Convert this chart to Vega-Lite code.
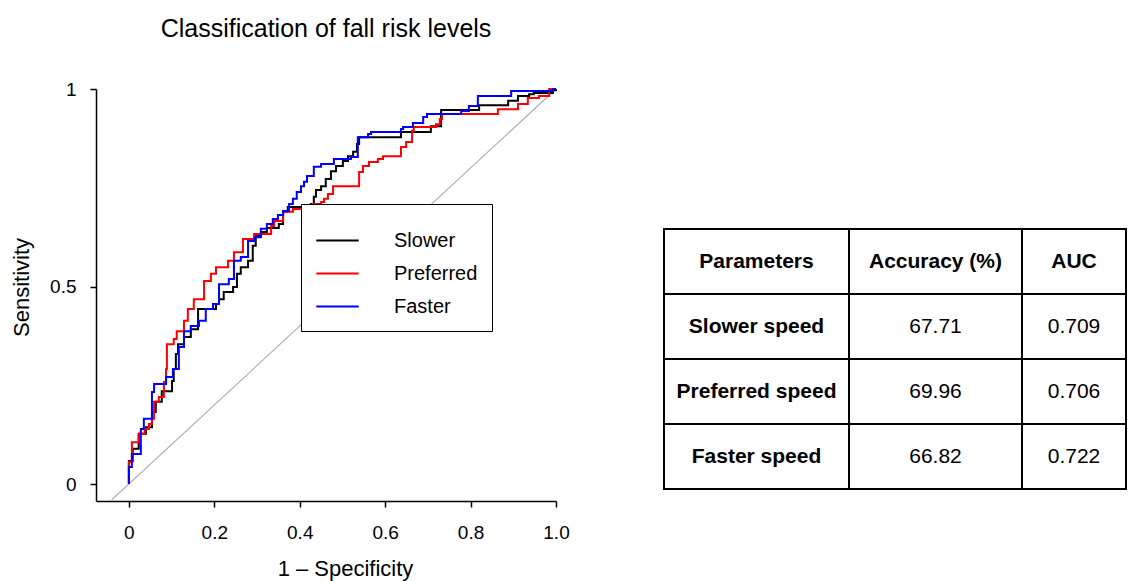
{
  "$schema": "https://vega.github.io/schema/vega-lite/v6.json",
  "padding": {"left": 10, "top": 17, "right": 2, "bottom": 5},
  "background": "white",
  "datasets": {
    "diag": [{"x": -0.04, "y": -0.04}, {"x": 1, "y": 1}],
    "roc": [
      {"s": "Slower", "fpr": 0, "tpr": 0},
      {"s": "Slower", "fpr": 0, "tpr": 0.058},
      {"s": "Slower", "fpr": 0.009, "tpr": 0.089},
      {"s": "Slower", "fpr": 0.023, "tpr": 0.127},
      {"s": "Slower", "fpr": 0.040, "tpr": 0.144},
      {"s": "Slower", "fpr": 0.054, "tpr": 0.182},
      {"s": "Slower", "fpr": 0.063, "tpr": 0.208},
      {"s": "Slower", "fpr": 0.077, "tpr": 0.235},
      {"s": "Slower", "fpr": 0.101, "tpr": 0.261},
      {"s": "Slower", "fpr": 0.105, "tpr": 0.291},
      {"s": "Slower", "fpr": 0.110, "tpr": 0.329},
      {"s": "Slower", "fpr": 0.115, "tpr": 0.354},
      {"s": "Slower", "fpr": 0.129, "tpr": 0.372},
      {"s": "Slower", "fpr": 0.145, "tpr": 0.392},
      {"s": "Slower", "fpr": 0.162, "tpr": 0.443},
      {"s": "Slower", "fpr": 0.204, "tpr": 0.456},
      {"s": "Slower", "fpr": 0.211, "tpr": 0.468},
      {"s": "Slower", "fpr": 0.222, "tpr": 0.486},
      {"s": "Slower", "fpr": 0.244, "tpr": 0.499},
      {"s": "Slower", "fpr": 0.253, "tpr": 0.532},
      {"s": "Slower", "fpr": 0.262, "tpr": 0.549},
      {"s": "Slower", "fpr": 0.279, "tpr": 0.565},
      {"s": "Slower", "fpr": 0.290, "tpr": 0.603},
      {"s": "Slower", "fpr": 0.297, "tpr": 0.628},
      {"s": "Slower", "fpr": 0.309, "tpr": 0.638},
      {"s": "Slower", "fpr": 0.323, "tpr": 0.648},
      {"s": "Slower", "fpr": 0.351, "tpr": 0.658},
      {"s": "Slower", "fpr": 0.361, "tpr": 0.689},
      {"s": "Slower", "fpr": 0.372, "tpr": 0.701},
      {"s": "Slower", "fpr": 0.426, "tpr": 0.709},
      {"s": "Slower", "fpr": 0.433, "tpr": 0.727},
      {"s": "Slower", "fpr": 0.438, "tpr": 0.744},
      {"s": "Slower", "fpr": 0.450, "tpr": 0.754},
      {"s": "Slower", "fpr": 0.461, "tpr": 0.772},
      {"s": "Slower", "fpr": 0.473, "tpr": 0.792},
      {"s": "Slower", "fpr": 0.485, "tpr": 0.805},
      {"s": "Slower", "fpr": 0.501, "tpr": 0.818},
      {"s": "Slower", "fpr": 0.513, "tpr": 0.830},
      {"s": "Slower", "fpr": 0.525, "tpr": 0.841},
      {"s": "Slower", "fpr": 0.534, "tpr": 0.861},
      {"s": "Slower", "fpr": 0.539, "tpr": 0.878},
      {"s": "Slower", "fpr": 0.637, "tpr": 0.891},
      {"s": "Slower", "fpr": 0.707, "tpr": 0.906},
      {"s": "Slower", "fpr": 0.731, "tpr": 0.947},
      {"s": "Slower", "fpr": 0.820, "tpr": 0.959},
      {"s": "Slower", "fpr": 0.888, "tpr": 0.970},
      {"s": "Slower", "fpr": 0.911, "tpr": 0.982},
      {"s": "Slower", "fpr": 0.937, "tpr": 0.987},
      {"s": "Slower", "fpr": 0.948, "tpr": 0.990},
      {"s": "Slower", "fpr": 0.993, "tpr": 0.997},
      {"s": "Slower", "fpr": 1.0, "tpr": 1.0},
      {"s": "Preferred", "fpr": 0, "tpr": 0},
      {"s": "Preferred", "fpr": 0, "tpr": 0.056},
      {"s": "Preferred", "fpr": 0.007, "tpr": 0.106},
      {"s": "Preferred", "fpr": 0.023, "tpr": 0.127},
      {"s": "Preferred", "fpr": 0.037, "tpr": 0.139},
      {"s": "Preferred", "fpr": 0.047, "tpr": 0.152},
      {"s": "Preferred", "fpr": 0.054, "tpr": 0.165},
      {"s": "Preferred", "fpr": 0.059, "tpr": 0.208},
      {"s": "Preferred", "fpr": 0.070, "tpr": 0.220},
      {"s": "Preferred", "fpr": 0.082, "tpr": 0.258},
      {"s": "Preferred", "fpr": 0.087, "tpr": 0.291},
      {"s": "Preferred", "fpr": 0.089, "tpr": 0.354},
      {"s": "Preferred", "fpr": 0.105, "tpr": 0.367},
      {"s": "Preferred", "fpr": 0.112, "tpr": 0.387},
      {"s": "Preferred", "fpr": 0.129, "tpr": 0.413},
      {"s": "Preferred", "fpr": 0.138, "tpr": 0.443},
      {"s": "Preferred", "fpr": 0.152, "tpr": 0.468},
      {"s": "Preferred", "fpr": 0.176, "tpr": 0.514},
      {"s": "Preferred", "fpr": 0.192, "tpr": 0.532},
      {"s": "Preferred", "fpr": 0.204, "tpr": 0.549},
      {"s": "Preferred", "fpr": 0.232, "tpr": 0.565},
      {"s": "Preferred", "fpr": 0.246, "tpr": 0.587},
      {"s": "Preferred", "fpr": 0.267, "tpr": 0.620},
      {"s": "Preferred", "fpr": 0.293, "tpr": 0.633},
      {"s": "Preferred", "fpr": 0.333, "tpr": 0.653},
      {"s": "Preferred", "fpr": 0.340, "tpr": 0.666},
      {"s": "Preferred", "fpr": 0.361, "tpr": 0.689},
      {"s": "Preferred", "fpr": 0.384, "tpr": 0.696},
      {"s": "Preferred", "fpr": 0.431, "tpr": 0.709},
      {"s": "Preferred", "fpr": 0.450, "tpr": 0.714},
      {"s": "Preferred", "fpr": 0.457, "tpr": 0.722},
      {"s": "Preferred", "fpr": 0.466, "tpr": 0.734},
      {"s": "Preferred", "fpr": 0.478, "tpr": 0.754},
      {"s": "Preferred", "fpr": 0.539, "tpr": 0.790},
      {"s": "Preferred", "fpr": 0.548, "tpr": 0.805},
      {"s": "Preferred", "fpr": 0.562, "tpr": 0.815},
      {"s": "Preferred", "fpr": 0.583, "tpr": 0.823},
      {"s": "Preferred", "fpr": 0.595, "tpr": 0.830},
      {"s": "Preferred", "fpr": 0.637, "tpr": 0.853},
      {"s": "Preferred", "fpr": 0.649, "tpr": 0.866},
      {"s": "Preferred", "fpr": 0.663, "tpr": 0.894},
      {"s": "Preferred", "fpr": 0.667, "tpr": 0.904},
      {"s": "Preferred", "fpr": 0.719, "tpr": 0.911},
      {"s": "Preferred", "fpr": 0.728, "tpr": 0.924},
      {"s": "Preferred", "fpr": 0.733, "tpr": 0.937},
      {"s": "Preferred", "fpr": 0.864, "tpr": 0.949},
      {"s": "Preferred", "fpr": 0.911, "tpr": 0.962},
      {"s": "Preferred", "fpr": 0.934, "tpr": 0.977},
      {"s": "Preferred", "fpr": 0.960, "tpr": 0.982},
      {"s": "Preferred", "fpr": 0.984, "tpr": 1.0},
      {"s": "Preferred", "fpr": 1.0, "tpr": 1.0},
      {"s": "Faster", "fpr": 0, "tpr": 0},
      {"s": "Faster", "fpr": 0, "tpr": 0.043},
      {"s": "Faster", "fpr": 0.007, "tpr": 0.076},
      {"s": "Faster", "fpr": 0.028, "tpr": 0.139},
      {"s": "Faster", "fpr": 0.035, "tpr": 0.165},
      {"s": "Faster", "fpr": 0.054, "tpr": 0.233},
      {"s": "Faster", "fpr": 0.059, "tpr": 0.253},
      {"s": "Faster", "fpr": 0.087, "tpr": 0.271},
      {"s": "Faster", "fpr": 0.103, "tpr": 0.291},
      {"s": "Faster", "fpr": 0.117, "tpr": 0.347},
      {"s": "Faster", "fpr": 0.129, "tpr": 0.387},
      {"s": "Faster", "fpr": 0.145, "tpr": 0.400},
      {"s": "Faster", "fpr": 0.164, "tpr": 0.413},
      {"s": "Faster", "fpr": 0.180, "tpr": 0.443},
      {"s": "Faster", "fpr": 0.197, "tpr": 0.456},
      {"s": "Faster", "fpr": 0.211, "tpr": 0.506},
      {"s": "Faster", "fpr": 0.234, "tpr": 0.519},
      {"s": "Faster", "fpr": 0.246, "tpr": 0.565},
      {"s": "Faster", "fpr": 0.262, "tpr": 0.575},
      {"s": "Faster", "fpr": 0.279, "tpr": 0.615},
      {"s": "Faster", "fpr": 0.295, "tpr": 0.625},
      {"s": "Faster", "fpr": 0.309, "tpr": 0.646},
      {"s": "Faster", "fpr": 0.323, "tpr": 0.658},
      {"s": "Faster", "fpr": 0.337, "tpr": 0.671},
      {"s": "Faster", "fpr": 0.349, "tpr": 0.681},
      {"s": "Faster", "fpr": 0.361, "tpr": 0.691},
      {"s": "Faster", "fpr": 0.375, "tpr": 0.709},
      {"s": "Faster", "fpr": 0.384, "tpr": 0.722},
      {"s": "Faster", "fpr": 0.393, "tpr": 0.739},
      {"s": "Faster", "fpr": 0.403, "tpr": 0.754},
      {"s": "Faster", "fpr": 0.410, "tpr": 0.765},
      {"s": "Faster", "fpr": 0.417, "tpr": 0.780},
      {"s": "Faster", "fpr": 0.433, "tpr": 0.803},
      {"s": "Faster", "fpr": 0.450, "tpr": 0.810},
      {"s": "Faster", "fpr": 0.480, "tpr": 0.823},
      {"s": "Faster", "fpr": 0.520, "tpr": 0.828},
      {"s": "Faster", "fpr": 0.536, "tpr": 0.878},
      {"s": "Faster", "fpr": 0.560, "tpr": 0.886},
      {"s": "Faster", "fpr": 0.567, "tpr": 0.891},
      {"s": "Faster", "fpr": 0.637, "tpr": 0.899},
      {"s": "Faster", "fpr": 0.642, "tpr": 0.904},
      {"s": "Faster", "fpr": 0.665, "tpr": 0.914},
      {"s": "Faster", "fpr": 0.689, "tpr": 0.929},
      {"s": "Faster", "fpr": 0.698, "tpr": 0.937},
      {"s": "Faster", "fpr": 0.778, "tpr": 0.944},
      {"s": "Faster", "fpr": 0.796, "tpr": 0.957},
      {"s": "Faster", "fpr": 0.817, "tpr": 0.982},
      {"s": "Faster", "fpr": 0.895, "tpr": 0.995},
      {"s": "Faster", "fpr": 0.993, "tpr": 1.0},
      {"s": "Faster", "fpr": 1.0, "tpr": 1.0}
    ],
    "table": [
      {"row": "Parameters", "col": "Parameters", "text": "Parameters"},
      {"row": "Parameters", "col": "Accuracy", "text": "Accuracy (%)"},
      {"row": "Parameters", "col": "AUC", "text": "AUC"},
      {"row": "Slower speed", "col": "Parameters", "text": "Slower speed"},
      {"row": "Slower speed", "col": "Accuracy", "text": "67.71"},
      {"row": "Slower speed", "col": "AUC", "text": "0.709"},
      {"row": "Preferred speed", "col": "Parameters", "text": "Preferred speed"},
      {"row": "Preferred speed", "col": "Accuracy", "text": "69.96"},
      {"row": "Preferred speed", "col": "AUC", "text": "0.706"},
      {"row": "Faster speed", "col": "Parameters", "text": "Faster speed"},
      {"row": "Faster speed", "col": "Accuracy", "text": "66.82"},
      {"row": "Faster speed", "col": "AUC", "text": "0.722"}
    ]
  },
  "spacing": 108,
  "bounds": "flush",
  "hconcat": [
    {
      "width": 460,
      "height": 412,
      "title": {"text": "Classification of fall risk levels", "fontSize": 25, "font": "Liberation Sans", "fontWeight": "normal", "color": "black", "anchor": "middle", "frame": "group", "offset": 38},
      "layer": [
        {
          "data": {"name": "diag"},
          "mark": {"type": "line", "color": "#b0b0b0", "strokeWidth": 1.2},
          "encoding": {
            "x": {"field": "x", "type": "quantitative", "scale": {"domain": [-0.077, 1.0], "nice": false, "zero": false},
              "axis": {"title": "1 – Specificity", "titleX": 249, "values": [0, 0.2, 0.4, 0.6, 0.8, 1], "labelExpr": "datum.value == 0 ? '0' : format(datum.value, '.1f')", "grid": false, "domainColor": "black", "domainWidth": 1.5, "tickColor": "black", "tickWidth": 1.5, "tickSize": 6, "labelFontSize": 19, "labelColor": "black", "labelPadding": 16, "labelFlush": false, "labelOverlap": false, "titleFontSize": 22, "titleFontWeight": "normal", "titleColor": "black", "titlePadding": 16}},
            "y": {"field": "y", "type": "quantitative", "scale": {"domain": [-0.043, 1.0], "nice": false, "zero": false},
              "axis": {"title": "Sensitivity", "titleY": 198, "values": [0, 0.5, 1], "labelExpr": "datum.value == 0.5 ? '0.5' : (datum.value == 1 ? '1' : '0')", "grid": false, "domainColor": "black", "domainWidth": 1.5, "tickColor": "black", "tickWidth": 1.5, "tickSize": 6, "labelFontSize": 19, "labelColor": "black", "labelPadding": 14, "labelFlush": false, "titleFontSize": 22, "titleFontWeight": "normal", "titleColor": "black", "titlePadding": 16}}
          }
        },
        {
          "data": {"name": "roc"},
          "mark": {"type": "line", "interpolate": "step-after", "strokeWidth": 2},
          "encoding": {
            "x": {"field": "fpr", "type": "quantitative"},
            "y": {"field": "tpr", "type": "quantitative"},
            "color": {"field": "s", "type": "nominal",
              "scale": {"domain": ["Slower", "Preferred", "Faster"], "range": ["#000000", "#ff0000", "#0000ff"]},
              "legend": {"title": null, "orient": "none", "legendX": 205, "legendY": 115, "fillColor": "white", "strokeColor": "black", "padding": 14, "symbolType": "stroke", "symbolSize": 1800, "symbolStrokeWidth": 2, "labelFontSize": 20, "labelFont": "Liberation Sans", "labelColor": "black", "rowPadding": -13, "labelOffset": 34}}
          }
        }
      ]
    },
    {
      "spacing": 0,
      "bounds": "flush",
      "hconcat": [
        {
          "width": 185, "height": 412,
          "data": {"name": "table"},
          "transform": [{"filter": "datum.col == 'Parameters'"}],
          "encoding": {"y": {"field": "row", "type": "nominal", "scale": {"domain": ["Parameters", "Slower speed", "Preferred speed", "Faster speed"], "range": [140, 400], "paddingInner": 0, "paddingOuter": 0}, "axis": null}},
          "layer": [
            {"mark": {"type": "rect", "fill": "white", "stroke": "black", "strokeWidth": 2}},
            {"mark": {"type": "text", "fontSize": 21, "fontWeight": "bold", "color": "black", "font": "Liberation Sans"}, "encoding": {"text": {"field": "text"}}}
          ]
        },
        {
          "width": 173, "height": 412,
          "data": {"name": "table"},
          "transform": [{"filter": "datum.col == 'Accuracy'"}],
          "encoding": {"y": {"field": "row", "type": "nominal", "scale": {"domain": ["Parameters", "Slower speed", "Preferred speed", "Faster speed"], "range": [140, 400], "paddingInner": 0, "paddingOuter": 0}, "axis": null}},
          "layer": [
            {"mark": {"type": "rect", "fill": "white", "stroke": "black", "strokeWidth": 2}},
            {"transform": [{"filter": "datum.row == 'Parameters'"}], "mark": {"type": "text", "fontSize": 21, "fontWeight": "bold", "color": "black", "font": "Liberation Sans"}, "encoding": {"text": {"field": "text"}}},
            {"transform": [{"filter": "datum.row != 'Parameters'"}], "mark": {"type": "text", "fontSize": 21, "fontWeight": "normal", "color": "black", "font": "Liberation Sans"}, "encoding": {"text": {"field": "text"}}}
          ]
        },
        {
          "width": 104, "height": 412,
          "data": {"name": "table"},
          "transform": [{"filter": "datum.col == 'AUC'"}],
          "encoding": {"y": {"field": "row", "type": "nominal", "scale": {"domain": ["Parameters", "Slower speed", "Preferred speed", "Faster speed"], "range": [140, 400], "paddingInner": 0, "paddingOuter": 0}, "axis": null}},
          "layer": [
            {"mark": {"type": "rect", "fill": "white", "stroke": "black", "strokeWidth": 2}},
            {"transform": [{"filter": "datum.row == 'Parameters'"}], "mark": {"type": "text", "fontSize": 21, "fontWeight": "bold", "color": "black", "font": "Liberation Sans"}, "encoding": {"text": {"field": "text"}}},
            {"transform": [{"filter": "datum.row != 'Parameters'"}], "mark": {"type": "text", "fontSize": 21, "fontWeight": "normal", "color": "black", "font": "Liberation Sans"}, "encoding": {"text": {"field": "text"}}}
          ]
        }
      ]
    }
  ],
  "config": {"view": {"stroke": null}, "font": "Liberation Sans"}
}
